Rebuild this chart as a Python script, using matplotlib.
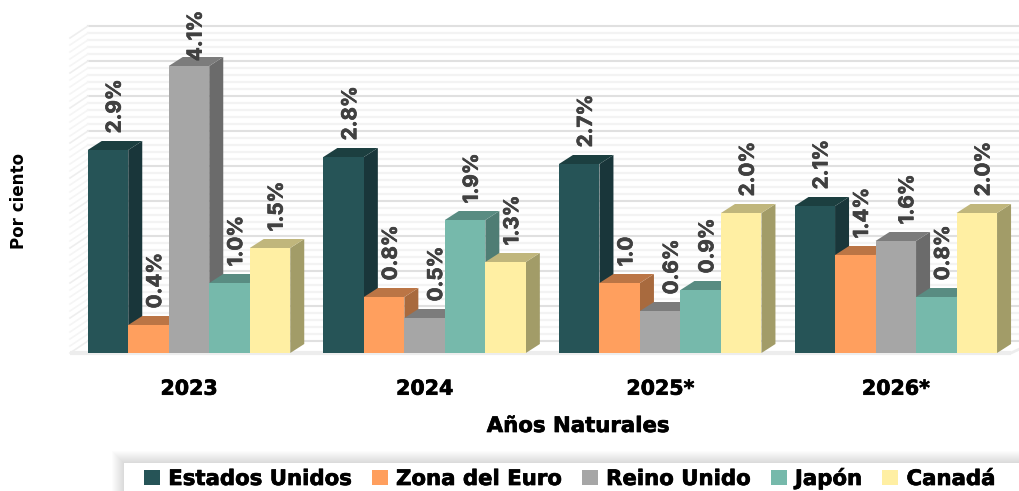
import matplotlib
matplotlib.use("Agg")
import matplotlib.pyplot as plt
import matplotlib.patheffects as pe
from matplotlib.patches import Polygon, Rectangle, Patch

plt.rcParams['font.family'] = ['Inter', 'DejaVu Sans']

years = ['2023', '2024', '2025*', '2026*']
series_names = ['Estados Unidos', 'Zona del Euro', 'Reino Unido', 'Japón', 'Canadá']
estados_unidos = [2.9, 2.8, 2.7, 2.1]
zona_euro = [0.4, 0.8, 1.0, 1.4]
reino_unido = [4.1, 0.5, 0.6, 1.6]
japon = [1.0, 1.9, 0.9, 0.8]
canada = [1.5, 1.3, 2.0, 2.0]
label_eu = ['2.9%', '2.8%', '2.7%', '2.1%']
label_ze = ['0.4%', '0.8%', '1.0', '1.4%']
label_ru = ['4.1%', '0.5%', '0.6%', '1.6%']
label_jp = ['1.0%', '1.9%', '0.9%', '0.8%']
label_ca = ['1.5%', '1.3%', '2.0%', '2.0%']
series = [estados_unidos, zona_euro, reino_unido, japon, canada]
labels = [label_eu, label_ze, label_ru, label_jp, label_ca]

front = ['#265457', '#FF9F5E', '#A6A6A6', '#76B9AB', '#FFEFA3']
top = ['#1C3F40', '#BB7545', '#7C7C7C', '#598C82', '#C0B67C']
side = ['#19363A', '#A86A3E', '#6B6B6B', '#4F7D74', '#A29C68']

W, H = 1019, 491
PX_PER_GROUP = 235.6
PX_PER_UNIT = 70.0
bw = 40.5 / PX_PER_GROUP
ddx, ddy = 14 / PX_PER_GROUP, 9 / PX_PER_UNIT
wdx, wdy = 18 / PX_PER_GROUP, 12 / PX_PER_UNIT
WIDE = ['DejaVu Sans']
THICK = [pe.withStroke(linewidth=0.5, foreground='black')]

fig = plt.figure(figsize=(W / 100, H / 100), dpi=100, facecolor='white')
ax = fig.add_axes([70 / W, (H - 353) / H, (W - 70) / W, 315 / H])
xmin = (70 - 189) / PX_PER_GROUP
xmax = (1019 - 189) / PX_PER_GROUP
xfront_end = (1011 - 189) / PX_PER_GROUP
ax.set_xlim(xmin, xmax)
ax.set_ylim(0, 4.5)
ax.patch.set_visible(False)
for s in ax.spines.values():
    s.set_visible(False)

# back wall and side wall grid
for k in range(46):
    v = k / 10
    major = k % 5 == 0
    col = '#E0E0E0' if major else '#F3F3F3'
    lw = 1.5 if major else 1.6
    ax.plot([xmin + wdx, xmax + 0.1], [v + wdy, v + wdy], color=col, lw=lw, zorder=1, clip_on=False)
    ax.plot([xmin, xmin + wdx], [v, v + wdy], color='#EEEEEE' if major else '#F5F5F5', lw=1.2, zorder=1, clip_on=False)
ax.plot([xmin, xfront_end], [0, 0], color='#EDEDED', lw=3, zorder=1.5, clip_on=False, solid_capstyle='butt')
ax.plot([xfront_end, xfront_end + wdx], [0, wdy * 0.7], color='#EDEDED', lw=2, zorder=1.5, clip_on=False)

z = 2
for g in range(len(years)):
    x0 = g - 2.5 * bw
    for j, vals in enumerate(series):
        v = vals[g]
        xl = x0 + j * bw
        xr = xl + bw
        ax.add_patch(Polygon([(xr, 0), (xr + ddx, ddy), (xr + ddx, v + ddy), (xr, v)],
                             closed=True, fc=side[j], ec='none', zorder=z, clip_on=False))
        ax.add_patch(Polygon([(xl, v), (xl + ddx, v + ddy), (xr + ddx, v + ddy), (xr, v)],
                             closed=True, fc=top[j], ec='none', zorder=z, clip_on=False))
        ax.bar(xl, v, width=bw, align='edge', color=front[j], edgecolor='none', zorder=z + 0.1, clip_on=False)
        z += 0.2
for g in range(len(years)):
    x0 = g - 2.5 * bw
    for j, vals in enumerate(series):
        xc = x0 + (j + 0.5) * bw
        v = vals[g]
        dy = 3.5 if v > 4 else 12
        dx = 9 if j == 2 and g > 0 else 5.5
        t = ax.annotate(labels[j][g], (xc, v), xytext=(dx, dy), textcoords='offset points',
                        rotation=90, ha='center', va='bottom', fontsize=14.8, fontweight='bold',
                        color='#404040', zorder=50, annotation_clip=False)
        t.set_path_effects([pe.withStroke(linewidth=0.5, foreground='#404040')])

ax.set_yticks([])
ax.set_xticks(range(len(years)))
ax.set_xticklabels(years, fontsize=14.8, fontweight='bold', color='black', family=WIDE, path_effects=THICK)
ax.tick_params(axis='x', length=0, pad=18.5)
ax.set_xlabel('Años Naturales', fontsize=15.3, fontweight='bold', color='black', family=WIDE, path_effects=THICK)
ax.xaxis.set_label_coords((578 - 70) / (W - 70), -(426 - 353) / 315, transform=ax.transAxes)
ax.xaxis.label.set_verticalalignment('center')
ax.set_ylabel('Por ciento', fontsize=12.1, fontweight='bold', color='black', family=WIDE)
ax.yaxis.set_label_coords((19 - 70) / (W - 70), (353 - 201) / 315, transform=ax.transAxes)
ax.yaxis.label.set_verticalalignment('center')

# legend box with soft shadow
steps = 12
for i in range(steps):
    pad = steps - i
    fig.add_artist(Rectangle(((124 - pad) / W, 0), (W - 124 + 2 * pad) / W, (28 + pad) / H,
                             transform=fig.transFigure, fc='black', ec='none', alpha=0.012, zorder=90))
fig.add_artist(Rectangle((124 / W, 0), (W - 124) / W, 28 / H, transform=fig.transFigure,
                         fc='white', ec='none', zorder=91))
handles = [Patch(fc=c, ec='none') for c in front]
leg = fig.legend(handles, series_names, loc='lower left', bbox_to_anchor=(144 / W, 2 / H),
                 ncol=5, frameon=False,
                 prop={'size': 15.3, 'weight': 'bold', 'family': WIDE},
                 handlelength=0.76, handleheight=0.76, handletextpad=0.38,
                 columnspacing=0.95, borderpad=0, borderaxespad=0)
leg.set_zorder(100)
for t in leg.get_texts():
    t.set_color('black')
    t.set_path_effects(THICK)

fig.savefig('out.png', dpi=100)
